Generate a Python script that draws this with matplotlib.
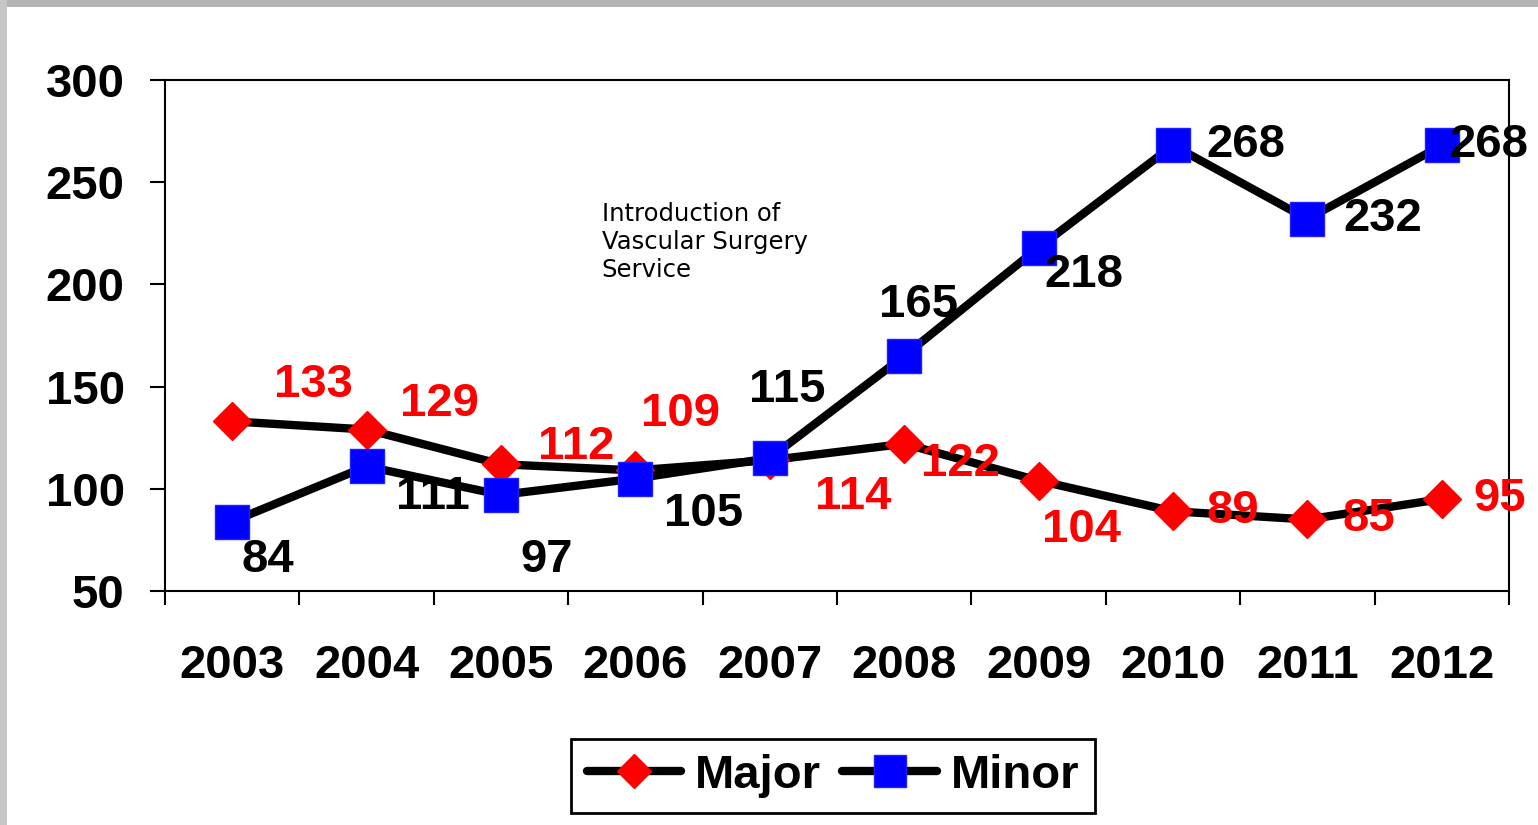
import numpy as np
import matplotlib
matplotlib.use('Agg')
import matplotlib.pyplot as plt
from matplotlib.patches import Rectangle

years = ['2003', '2004', '2005', '2006', '2007', '2008', '2009', '2010', '2011', '2012']
major = [133, 129, 112, 109, 114, 122, 104, 89, 85, 95]
minor = [84, 111, 97, 105, 115, 165, 218, 268, 232, 268]
yticks = [50, 100, 150, 200, 250, 300]
note = 'Introduction of\nVascular Surgery\nService'

# label offsets in pixels (dx, dy) from each point
major_off = [(81, 36), (73, 26), (75, 17), (45, 56), (83, -37),
             (56, -20), (43, -49), (60, 0), (61, 0), (58, 0)]
minor_off = [(36, -38), (66, -31), (46, -65), (68, -35), (17, 68),
             (14, 51), (45, -27), (73, 0), (75, 0), (47, 0)]

plt.rcParams['font.family'] = 'Liberation Sans'
plt.rcParams['font.weight'] = 'bold'
FS = 34

fig = plt.figure(figsize=(15.38, 8.25), dpi=100)
ax = fig.add_axes([165 / 1538, 1 - 591 / 825, 1344 / 1538, 511 / 825])

# grey frame strips
fig.add_artist(Rectangle((0, 1 - 7 / 825), 1, 7 / 825, transform=fig.transFigure,
                         color='#b4b4b4', lw=0))
fig.add_artist(Rectangle((0, 0), 7 / 1538, 1, transform=fig.transFigure,
                         color='#c6c6c6', lw=0))

x = np.arange(len(years))
ax.plot(x, major, color='black', lw=6, marker='D', markersize=19,
        markerfacecolor='#ff0000', markeredgecolor='#ff0000', label='Major',
        solid_capstyle='round', zorder=3)
ax.plot(x, minor, color='black', lw=6, marker='s', markersize=25,
        markerfacecolor='#0000ff', markeredgecolor='#2020ff', markeredgewidth=1,
        label='Minor', solid_capstyle='round', zorder=4)

for i, v in enumerate(major):
    ax.annotate(str(v), (x[i], v), xytext=major_off[i], textcoords='offset pixels',
                ha='center', va='center', color='#ff0000', fontsize=FS,
                fontweight='bold', zorder=5)
for i, v in enumerate(minor):
    ax.annotate(str(v), (x[i], v), xytext=minor_off[i], textcoords='offset pixels',
                ha='center', va='center', color='black', fontsize=FS,
                fontweight='bold', zorder=5)

ax.text(0.325, 0.762, note, transform=ax.transAxes, ha='left', va='top',
        fontsize=17.5, fontweight='normal', family='DejaVu Sans',
        linespacing=1.22)

ax.set_xlim(-0.5, len(years) - 0.5)
ax.set_ylim(50, 300)
ax.set_yticks(yticks)
ax.set_xticks(x)
ax.set_xticklabels(years)
ax.set_xticks(np.arange(len(years) + 1) - 0.5, minor=True)
ax.tick_params(axis='x', which='major', length=0, pad=38, labelsize=FS)
ax.tick_params(axis='x', which='minor', length=10, width=1.5, direction='out')
ax.tick_params(axis='y', length=11, width=1.5, pad=18, labelsize=FS, direction='out')
for s in ax.spines.values():
    s.set_linewidth(1.5)

leg = fig.legend(loc='center', bbox_to_anchor=(833 / 1538, 1 - 776 / 825),
                 ncol=2, fontsize=FS, frameon=True, fancybox=False, framealpha=1,
                 edgecolor='black', handlelength=2.0, handletextpad=0.3,
                 columnspacing=0.45, borderpad=0.32, markerscale=0.9)
leg.get_frame().set_linewidth(2)

fig.savefig('out.png', dpi=100)
